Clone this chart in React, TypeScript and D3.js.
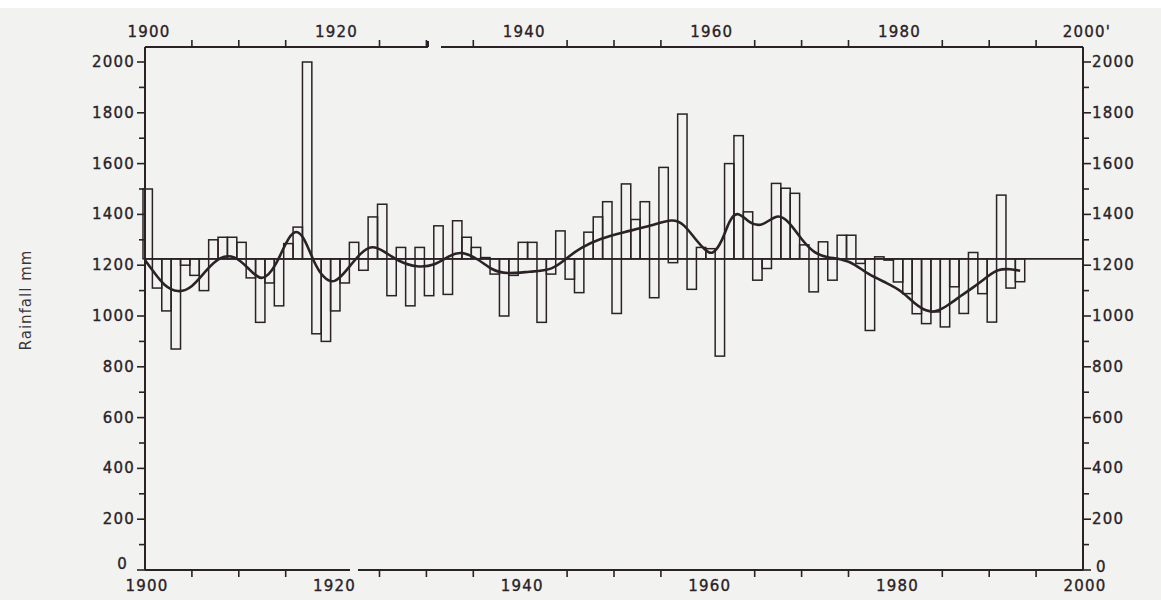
import React from "react";
import * as d3 from "d3";

const startYear = 1900;
const rainfall = [
  1500, 1110, 1020, 870, 1200, 1160, 1100, 1300, 1310, 1310,
  1290, 1150, 975, 1130, 1040, 1285, 1350, 2000, 930, 900,
  1020, 1130, 1290, 1180, 1390, 1440, 1080, 1270, 1040, 1270,
  1080, 1355, 1085, 1375, 1310, 1270, 1230, 1165, 1000, 1160,
  1290, 1290, 975, 1165, 1335, 1145, 1092, 1330, 1390, 1450,
  1010, 1520, 1380, 1450, 1072, 1585, 1210, 1795, 1105, 1270,
  1265, 842, 1600, 1710, 1410, 1141, 1187, 1522, 1503, 1483,
  1280, 1095, 1292, 1141, 1318, 1318, 1207, 943, 1233, 1220,
  1134, 1088, 1009, 970, 1016, 957, 1115, 1010, 1250, 1088,
  976, 1476, 1110, 1135,
];
const years = rainfall.map((_, i) => startYear + i);
const meanRainfall = 1225;

const smoothYears = [
  1900, 1901, 1902, 1903.5, 1905, 1906.5, 1908, 1909.5, 1911, 1912.5,
  1914, 1915, 1916, 1917, 1918, 1919, 1920.2, 1921.5, 1923, 1924.2,
  1925.5, 1927, 1929, 1931, 1932.5, 1933.8, 1935.5, 1937, 1938.5, 1941,
  1943.5, 1945, 1946.5, 1948.5, 1951, 1954, 1956.3, 1957.5, 1958.5, 1959.8,
  1960.5, 1961.5, 1962.3, 1963.2, 1964.4, 1965.8, 1967.4, 1968.6, 1970, 1971.4,
  1972.8, 1974.2, 1975.7, 1977, 1979.2, 1980.6, 1982, 1983.4, 1984.5, 1985.6,
  1987, 1988.4, 1989.8, 1990.9, 1992.3, 1993.3,
];
const smoothValues = [
  1220, 1170, 1120, 1090, 1110, 1180, 1235, 1240, 1190, 1128,
  1200, 1290, 1345, 1310, 1210, 1150, 1125, 1180, 1250, 1280,
  1255, 1215, 1190, 1200, 1240, 1255, 1225, 1180, 1165, 1175,
  1180, 1230, 1270, 1305, 1330, 1355, 1385, 1360, 1310, 1255,
  1240, 1290, 1380, 1415, 1365, 1350, 1405, 1375, 1300, 1245,
  1230, 1225, 1205, 1165, 1128, 1100, 1050, 1015, 1018, 1042,
  1080, 1115, 1155, 1185, 1185, 1178,
];

const yTicks = [0, 200, 400, 600, 800, 1000, 1200, 1400, 1600, 1800, 2000];
const yLeftLabels = ["0", "200", "400", "600", "800", "1000", "1200", "1400", "1600", "1800", "2000"];
const xLabelYears = [1900, 1920, 1940, 1960, 1980, 2000];
const xTopLabels = ["1900", "1920", "1940", "1960", "1980", "2000'"];
const xBottomLabels = ["1900", "1920", "1940", "1960", "1980", "2000"];

const W = 1161;
const H = 600;
const INK = "#2a2226";

export default function App() {
  const left = 145;
  const right = 1083;
  const topLine = 47;
  const x = d3.scaleLinear().domain([1900, 2000]).range([left, right]);
  const y = d3.scaleLinear().domain([0, 2000]).range([570, 62]);
  const bottom = y(0);

  const minorY = d3.range(100, 2000, 200);
  const minorX = d3.range(1905, 2000, 5).filter((v) => v % 20 !== 0);

  const smoothLine = d3
    .line<number>()
    .x((_, i) => x(smoothYears[i]))
    .y((d) => y(d))
    .curve(d3.curveBasis);

  const font = "'DejaVu Sans', Verdana, sans-serif";
  const labelStyle = { letterSpacing: "1.2px" } as React.CSSProperties;

  return (
    <svg width={W} height={H} style={{ display: "block", position: "absolute", left: 0, top: 0 }}>
      <rect x={0} y={0} width={W} height={H} fill="#f2f2f0" />
      <rect x={0} y={0} width={W} height={8} fill="#ffffff" />

      {/* bars as deviations from the mean */}
      <g fill="none" stroke={INK} strokeWidth={1.5}>
        {years.map((yr, i) => {
          const v = rainfall[i];
          const y0 = y(Math.max(v, meanRainfall));
          const y1 = y(Math.min(v, meanRainfall));
          return (
            <rect key={yr} x={x(yr) - 2} y={y0} width={x(yr + 1) - x(yr)} height={y1 - y0} />
          );
        })}
      </g>

      {/* mean line */}
      <line x1={left} x2={right} y1={y(meanRainfall)} y2={y(meanRainfall)} stroke={INK} strokeWidth={1.6} />

      {/* smoothed curve */}
      <path d={smoothLine(smoothValues) || ""} fill="none" stroke={INK} strokeWidth={2.6} strokeLinejoin="round" />

      {/* frame */}
      <g stroke={INK} strokeWidth={2} fill="none">
        <line x1={left} x2={left} y1={topLine} y2={bottom} />
        <line x1={right} x2={right} y1={topLine} y2={bottom} />
        <line x1={left} x2={428} y1={topLine} y2={topLine} />
        <line x1={441} x2={right} y1={topLine} y2={topLine} />
        <line x1={428} x2={428} y1={topLine} y2={topLine - 6} />
        <line x1={left} x2={350} y1={bottom} y2={bottom} />
        <line x1={358} x2={right} y1={bottom} y2={bottom} />
      </g>

      {/* x ticks */}
      <g stroke={INK} strokeWidth={1.6}>
        {minorX.map((v) => (
          <line key={"t" + v} x1={x(v)} x2={x(v)} y1={topLine} y2={topLine - 7} />
        ))}
        {minorX.map((v) => (
          <line key={"b" + v} x1={x(v)} x2={x(v)} y1={bottom} y2={bottom + 7} />
        ))}
      </g>

      {/* y ticks */}
      <g stroke={INK} strokeWidth={1.6}>
        {yTicks.map((v) => (
          <line key={"l" + v} x1={left} x2={left - 8} y1={y(v)} y2={y(v)} />
        ))}
        {minorY.map((v) => (
          <line key={"lm" + v} x1={left} x2={left - 6} y1={y(v)} y2={y(v)} />
        ))}
        {yTicks.map((v) => (
          <line key={"r" + v} x1={right} x2={right + 8} y1={y(v)} y2={y(v)} />
        ))}
        {minorY.map((v) => (
          <line key={"rm" + v} x1={right} x2={right + 6} y1={y(v)} y2={y(v)} />
        ))}
      </g>

      {/* y labels */}
      <g fontFamily={font} fontSize={15} fill={INK} stroke={INK} strokeWidth={0.35} style={labelStyle}>
        {yTicks.map((v, i) =>
          v === 0 ? (
            <text key={"ll" + v} x={left - 17} y={y(v) - 1} textAnchor="end">
              {yLeftLabels[i]}
            </text>
          ) : (
            <text key={"ll" + v} x={left - 10} y={y(v) + 5} textAnchor="end">
              {yLeftLabels[i]}
            </text>
          )
        )}
        {yTicks.map((v, i) =>
          v === 0 ? (
            <text key={"rl" + v} x={right + 13} y={y(v) + 2} textAnchor="start">
              {yLeftLabels[i]}
            </text>
          ) : (
            <text key={"rl" + v} x={right + 9} y={y(v) + 5} textAnchor="start">
              {yLeftLabels[i]}
            </text>
          )
        )}
      </g>

      {/* x labels */}
      <g fontFamily={font} fontSize={15} fill={INK} stroke={INK} strokeWidth={0.35} textAnchor="middle" style={labelStyle}>
        {xLabelYears.map((v, i) => (
          <text key={"xt" + v} x={x(v) + 4} y={37}>
            {xTopLabels[i]}
          </text>
        ))}
        {xLabelYears.map((v, i) => (
          <text key={"xb" + v} x={x(v) + 2} y={591}>
            {xBottomLabels[i]}
          </text>
        ))}
      </g>

      <text
        x={0}
        y={0}
        transform={`translate(31, ${(y(0) + y(2000)) / 2 - 16}) rotate(-90)`}
        textAnchor="middle"
        fontFamily={font}
        fontSize={15}
        fill="#3a3438"
        style={{ letterSpacing: "1px" }}
      >
        Rainfall mm
      </text>
    </svg>
  );
}
